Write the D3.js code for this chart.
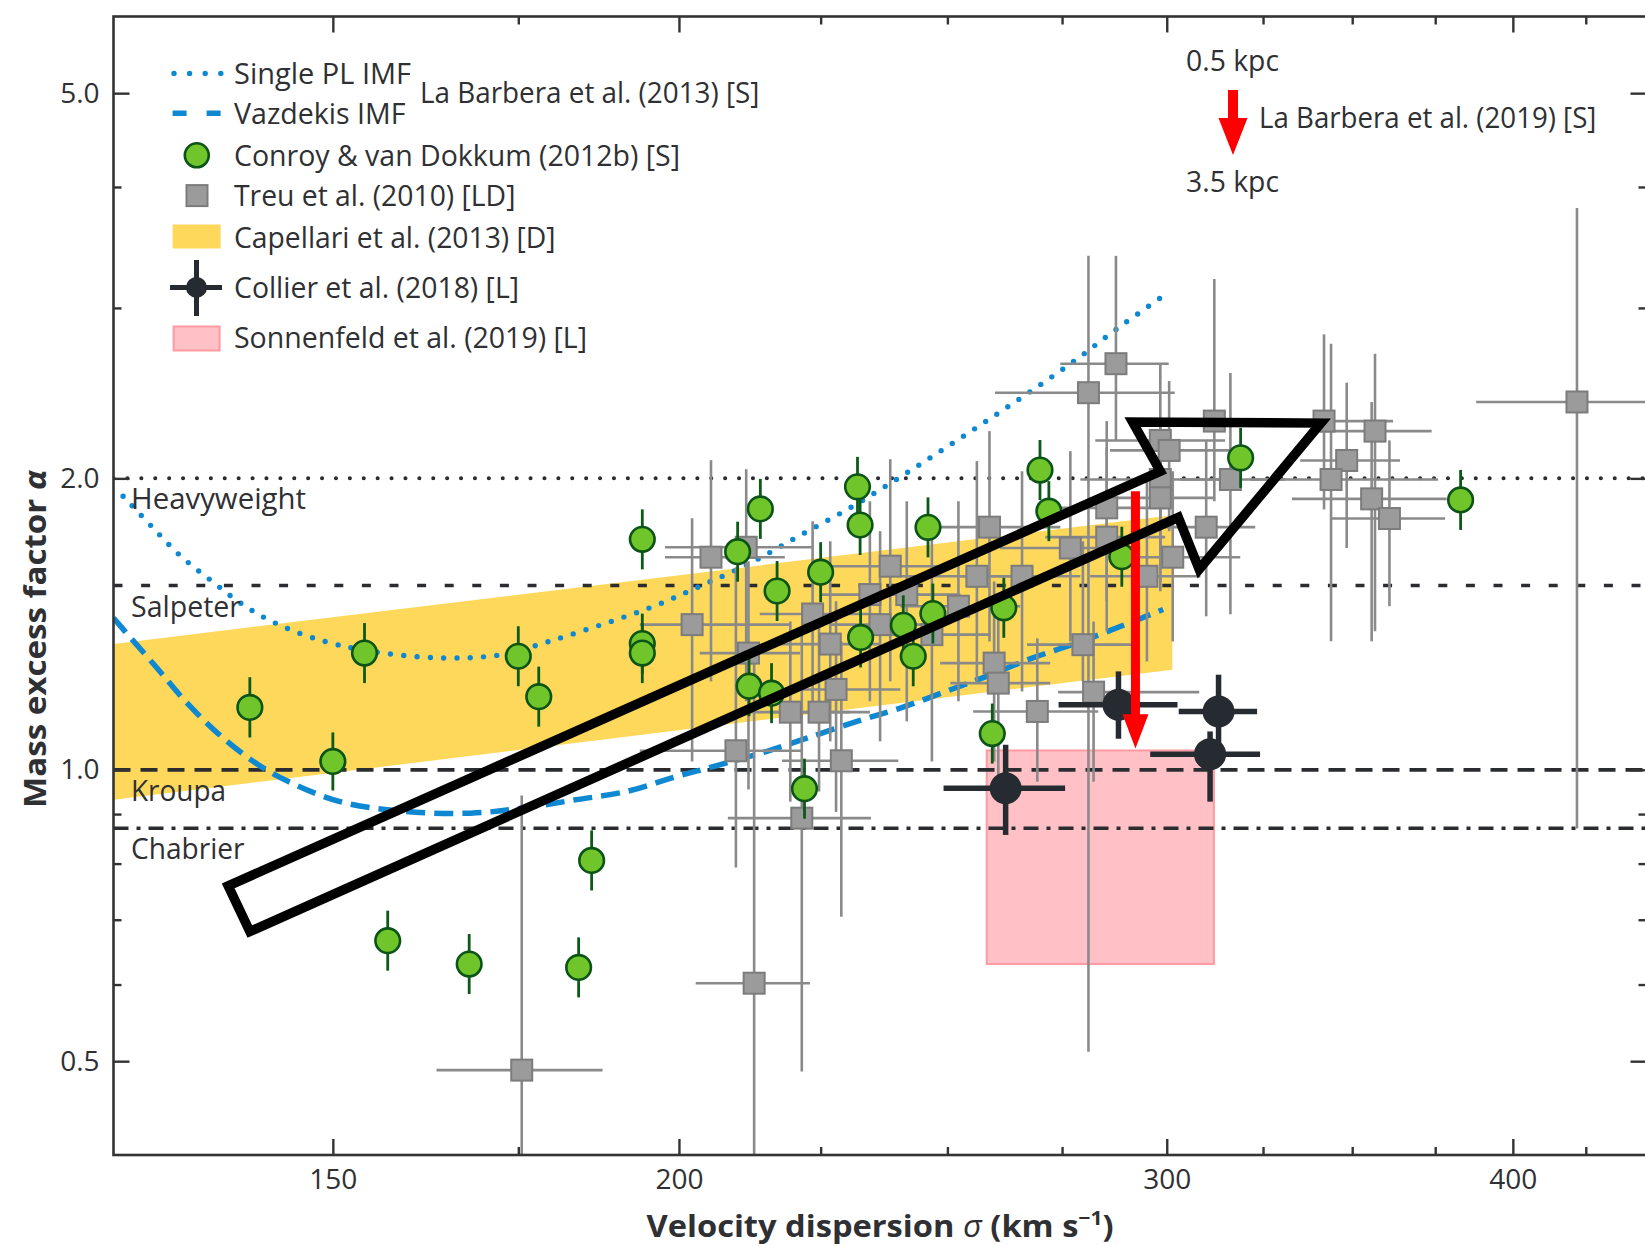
<!DOCTYPE html>
<html>
<head>
<meta charset="utf-8">
<script src="https://cdn.jsdelivr.net/npm/d3@7"></script>
<style>
  body { margin: 0; background: #fff; }
  text { font-family: "Open Sans", "Noto Sans", sans-serif; fill: #2f3033; }
</style>
</head>
<body>
<svg id="chart" width="1645" height="1246"></svg>
<script>
// ---------------- data ----------------
// IMF reference normalisations (mass excess factor alpha)
const refNames  = ["Heavyweight", "Salpeter", "Kroupa", "Chabrier"];
const refAlpha  = [2.0, 1.55, 1.0, 0.87];

// La Barbera et al. (2013): single power-law IMF and Vazdekis IMF trends
const splSigma = [126.0,129.0,132.2,135.7,138.9,142.6,147.6,154.2,163.9,172.6,179.5,187.5,195.8,203.8,212.5,220.9,230.0,239.1,248.3,258.0,267.8,278.0,288.0,299.1];
const splAlpha = [1.917,1.785,1.662,1.565,1.487,1.423,1.368,1.328,1.305,1.315,1.357,1.412,1.475,1.550,1.638,1.743,1.857,1.987,2.130,2.288,2.458,2.648,2.858,3.086];
const vazSigma = [125.0,126.2,129.6,132.7,136.5,140.7,144.5,150.9,159.0,168.2,175.7,183.5,191.6,199.1,206.4,215.2,222.4,231.9,240.4,249.9,258.3,268.4,278.4,288.6,299.1];
const vazAlpha = [1.435,1.390,1.274,1.177,1.087,1.016,0.973,0.927,0.906,0.902,0.913,0.931,0.950,0.982,1.010,1.045,1.078,1.122,1.158,1.206,1.249,1.305,1.352,1.406,1.464];

// Conroy & van Dokkum (2012b): sigma, alpha, error (dex)
const cvdSigma = [140,150,154,175,178,194,194,194,210,214,217,212,216,222,225,232,232.5,232.6,241,243,246,247,259.5,262,270,272,289,319,383,157,168,184,186];
const cvdAlpha = [1.16,1.02,1.32,1.31,1.19,1.73,1.35,1.32,1.68,1.86,1.53,1.22,1.20,0.956,1.60,1.96,1.79,1.37,1.41,1.31,1.78,1.45,1.09,1.47,2.04,1.85,1.66,2.10,1.90,0.666,0.630,0.625,0.806];
const cvdErr   = [0.031,0.030,0.031,0.031,0.031,0.031,0.031,0.031,0.031,0.031,0.031,0.031,0.031,0.031,0.031,0.031,0.031,0.031,0.031,0.031,0.031,0.031,0.031,0.031,0.031,0.031,0.031,0.031,0.031,0.031,0.031,0.031,0.031];

// Treu et al. (2010): sigma with range, alpha with range
const treuSigma   = [175.5,212.9,421.9,341.9,356.7,348.4,343.9,355.7,361.0,281.1,287.6,312.1,298.4,300.6,298.4,316.3,298.4,285.4,258.9,310.0,285.4,276.9,301.5,295.1,256.2,266.0,252.3,205.4,211.5,202.2,211.9,223.5,226.8,227.9,238.4,234.4,241.7,236.4,246.8,209.7,219.4,224.7,228.9,221.5,279.8,259.9,260.8,282.3,269.4];
const treuSigLo   = [163.5,202.8,388.0,326.9,340.8,335.2,321.6,332.9,344.1,260.1,274.6,298.4,282.7,286.2,279.2,303.4,283.9,272.3,244.4,295.9,271.2,261.2,286.2,281.5,240.4,252.7,240.4,197.7,197.7,193.6,203.5,213.9,217.5,217.5,226.8,224.9,232.5,226.8,236.4,193.6,210.4,215.7,217.9,208.3,267.1,248.5,250.6,274.1,255.4];
const treuSigHi   = [187.7,223.0,480.0,362.1,373.9,364.2,375.9,378.6,378.1,302.0,300.5,324.2,314.9,316.3,318.9,331.0,312.3,300.8,274.6,322.9,299.6,293.5,318.9,308.5,272.3,279.2,265.6,218.4,223.6,219.4,221.2,234.4,236.4,240.4,250.6,244.4,252.7,246.5,259.1,221.7,230.6,234.4,240.0,234.6,293.2,272.3,272.3,308.2,283.4];
const treuAlpha   = [0.4895,0.6019,2.3985,2.292,2.2379,2.087,1.9947,1.9048,1.8178,2.4521,2.6272,2.292,2.1888,2.1375,1.9947,1.9947,1.9094,1.8645,1.7808,1.7808,1.739,1.6948,1.6581,1.5845,1.5845,1.5845,1.4755,1.6581,1.6977,1.4124,1.3199,1.4485,1.3485,1.2106,1.623,1.517,1.517,1.4124,1.3792,1.0463,1.1469,1.1469,1.0217,0.8913,1.3466,1.2889,1.2289,1.2029,1.1488];
const treuAlphaLo = [0.30,0.30,0.8695,1.8574,1.3901,1.6948,1.3574,1.3574,1.4755,0.5113,2.1852,1.894,1.642,1.7639,1.565,1.4475,1.529,1.493,1.357,1.4406,1.3901,1.357,1.357,1.294,1.234,1.2048,1.177,1.234,1.177,1.020,0.9542,1.177,1.070,0.9042,1.234,1.177,1.122,1.070,1.020,0.7925,0.927,0.9496,0.705,0.488,1.234,1.020,0.972,0.972,0.972];
const treuAlphaHi = [0.9406,1.3412,3.8058,2.8174,2.6906,2.511,2.755,2.3985,2.1888,3.3955,3.3955,3.2137,2.6316,2.5212,2.292,2.5696,2.2379,2.292,2.238,2.185,2.1519,2.1337,2.0343,1.987,2.084,2.034,1.894,2.0885,2.0441,1.8191,1.642,1.806,1.722,1.493,2.0936,1.894,1.894,1.764,1.806,1.6191,1.423,1.4577,1.357,1.3934,1.722,1.565,1.493,1.423,1.367];

// Cappellari et al. (2013): band edges at the two ends of the sigma range
const capSigma = [125, 301.4];
const capLow   = [0.931, 1.269];
const capHigh  = [1.349, 1.832];

// Collier et al. (2018)
const colSigma   = [262.4, 288.2, 313.2, 311.0];
const colSigLo   = [249.2, 274.2, 303.0, 295.9];
const colSigHi   = [275.7, 302.7, 323.4, 324.2];
const colAlpha   = [0.957, 1.1675, 1.1488, 1.0378];
const colAlphaLo = [0.8564, 1.0766, 1.0396, 0.927];
const colAlphaHi = [1.0613, 1.2637, 1.2538, 1.0955];

// Sonnenfeld et al. (2019): allowed region
const sonSigma = [258.3, 312.0];
const sonAlpha = [0.63, 1.047];

// La Barbera et al. (2019): radial change from 0.5 kpc to 3.5 kpc
const lb19Sigma = 292.3;
const lb19Alpha = [1.94, 1.141, 1.052];   // shaft start, head base, tip

// Trend arrow outline (sigma, alpha) vertices
const trendSigma = [137.5, 298.4, 291.6, 341.0, 308.2, 302.9, 140.0];
const trendAlpha = [0.7587, 2.034, 2.287, 2.281, 1.611, 1.823, 0.6806];

// Axis ticks
const xMajor = [150, 200, 300, 400];
const xMinor = [175, 225, 250, 275, 325, 350, 375, 425];
const yMajor = [0.5, 1.0, 2.0, 5.0];
const yMinor = [0.6, 0.7, 0.8, 0.9, 3, 4];

// ---------------- layout ----------------
const svg = d3.select("#chart");
const L = 113.5, R = 1646.5, T = 16.5, B = 1155;
const x = d3.scaleLog().domain([125, 447]).range([L, R]);
const y = d3.scaleLog().domain([0.4, 6]).range([B, T]);

const BLUE = "#0f88d2", INK = "#2b2c30", GRAYLINE = "#8a8a8a";

svg.append("defs").append("clipPath").attr("id", "plotArea")
  .append("rect").attr("x", L).attr("y", T).attr("width", R - L).attr("height", B - T);

const plot = svg.append("g").attr("clip-path", "url(#plotArea)");

// Cappellari band
const band = capSigma.map((s, i) => ({ s, lo: capLow[i], hi: capHigh[i] }));
plot.append("path").datum(band)
  .attr("d", d3.area().x(d => x(d.s)).y0(d => y(d.lo)).y1(d => y(d.hi)))
  .attr("fill", "#fed85a");

// Sonnenfeld region
plot.append("rect")
  .attr("x", x(sonSigma[0])).attr("y", y(sonAlpha[1]))
  .attr("width", x(sonSigma[1]) - x(sonSigma[0]))
  .attr("height", y(sonAlpha[0]) - y(sonAlpha[1]))
  .attr("fill", "#ffc1c5").attr("stroke", "#ff9aa2").attr("stroke-width", 2);

// IMF reference lines
const refStyle = [
  { w: 4, dash: "0.1 13.8", cap: "round" },
  { w: 3.5, dash: "9 18.6", cap: "butt" },
  { w: 3.8, dash: "17 10", cap: "butt" },
  { w: 3.5, dash: "15 8 4 8", cap: "butt" }
];
const refLabelW = [175, 110, 95, 113.5];
refAlpha.forEach((a, i) => {
  plot.append("line")
    .attr("x1", x(125)).attr("x2", x(447)).attr("y1", y(a)).attr("y2", y(a))
    .attr("stroke", INK).attr("stroke-width", refStyle[i].w)
    .attr("stroke-dasharray", refStyle[i].dash).attr("stroke-linecap", refStyle[i].cap);
  svg.append("text").attr("x", 131).attr("y", y(a) + 31)
    .attr("font-size", 29).attr("textLength", refLabelW[i]).attr("lengthAdjust", "spacingAndGlyphs")
    .text(refNames[i]);
});

// La Barbera (2013) model curves
const curve = d3.line().x(d => x(d[0])).y(d => y(d[1])).curve(d3.curveCatmullRom.alpha(0.5));
plot.append("path").datum(vazSigma.map((s, i) => [s, vazAlpha[i]]))
  .attr("d", curve).attr("fill", "none").attr("stroke", BLUE)
  .attr("stroke-width", 5.5).attr("stroke-dasharray", "19 9");
plot.append("path").datum(splSigma.map((s, i) => [s, splAlpha[i]]))
  .attr("d", curve).attr("fill", "none").attr("stroke", BLUE)
  .attr("stroke-width", 5.4).attr("stroke-dasharray", "0 13.3").attr("stroke-linecap", "round");

// Treu et al. error bars, then squares
const treu = treuSigma.map((s, i) => ({
  s, a: treuAlpha[i], sl: treuSigLo[i], sh: treuSigHi[i], al: treuAlphaLo[i], ah: treuAlphaHi[i]
}));
const tBars = plot.append("g").attr("stroke", GRAYLINE).attr("stroke-width", 2.6);
treu.forEach(d => {
  tBars.append("line").attr("x1", x(d.sl)).attr("x2", x(d.sh)).attr("y1", y(d.a)).attr("y2", y(d.a));
  tBars.append("line").attr("x1", x(d.s)).attr("x2", x(d.s)).attr("y1", y(d.al)).attr("y2", y(d.ah));
});
plot.append("g").selectAll("rect").data(treu).join("rect")
  .attr("x", d => x(d.s) - 10.5).attr("y", d => y(d.a) - 10.5)
  .attr("width", 21).attr("height", 21)
  .attr("fill", "#9b9b9b").attr("stroke", "#7c7c7c").attr("stroke-width", 2);

// Conroy & van Dokkum points
const cvd = cvdSigma.map((s, i) => ({ s, a: cvdAlpha[i], e: cvdErr[i] }));
plot.append("g").selectAll("line").data(cvd).join("line")
  .attr("x1", d => x(d.s)).attr("x2", d => x(d.s))
  .attr("y1", d => y(d.a * Math.pow(10, -d.e))).attr("y2", d => y(d.a * Math.pow(10, d.e)))
  .attr("stroke", "#0c5a18").attr("stroke-width", 2.8);
plot.append("g").selectAll("circle").data(cvd).join("circle")
  .attr("cx", d => x(d.s)).attr("cy", d => y(d.a)).attr("r", 12.3)
  .attr("fill", "#70c52a").attr("stroke", "#0b5316").attr("stroke-width", 2.6);

// Collier et al. points
const col = colSigma.map((s, i) => ({
  s, a: colAlpha[i], sl: colSigLo[i], sh: colSigHi[i], al: colAlphaLo[i], ah: colAlphaHi[i]
}));
const cG = plot.append("g");
col.forEach(d => {
  cG.append("line").attr("x1", x(d.sl)).attr("x2", x(d.sh)).attr("y1", y(d.a)).attr("y2", y(d.a))
    .attr("stroke", "#262a31").attr("stroke-width", 5.5);
  cG.append("line").attr("x1", x(d.s)).attr("x2", x(d.s)).attr("y1", y(d.al)).attr("y2", y(d.ah))
    .attr("stroke", "#262a31").attr("stroke-width", 5.5);
});
cG.selectAll("circle").data(col).join("circle")
  .attr("cx", d => x(d.s)).attr("cy", d => y(d.a)).attr("r", 16).attr("fill", "#262a31");

// La Barbera (2019) radial arrow
function downArrow(g, cx, y0, yHead, yTip, shaftW, headW, color) {
  g.append("path")
    .attr("d", `M${cx - shaftW / 2},${y0} L${cx + shaftW / 2},${y0} L${cx + shaftW / 2},${yHead}
                L${cx + headW / 2},${yHead} L${cx},${yTip} L${cx - headW / 2},${yHead}
                L${cx - shaftW / 2},${yHead} Z`)
    .attr("fill", color);
}
downArrow(plot, x(lb19Sigma), y(lb19Alpha[0]), y(lb19Alpha[1]), y(lb19Alpha[2]), 9, 26, "#ff0000");

// Trend arrow outline
plot.append("path")
  .attr("d", d3.line()(trendSigma.map((s, i) => [x(s), y(trendAlpha[i])])) + "Z")
  .attr("fill", "none").attr("stroke", "#000").attr("stroke-width", 9.5)
  .attr("stroke-linejoin", "miter").attr("stroke-miterlimit", 10);

// ---------------- axes ----------------
const axG = svg.append("g");
function styleAxis(g) {
  g.select(".domain").remove();
  g.selectAll(".tick line").attr("stroke", "#333").attr("stroke-width", 2.4);
  g.selectAll(".tick text").attr("font-family", '"Open Sans", sans-serif').attr("font-size", 28).attr("fill", "#333");
}
const fmtX = d3.format("d"), fmtY = d3.format(".1f");
axG.append("g").attr("transform", `translate(0,${B})`)
  .call(d3.axisBottom(x).tickValues(xMajor).tickSizeInner(-16).tickSizeOuter(0).tickPadding(14).tickFormat(fmtX)).call(styleAxis);
axG.append("g").attr("transform", `translate(0,${B})`)
  .call(d3.axisBottom(x).tickValues(xMinor).tickSizeInner(-8).tickSizeOuter(0).tickFormat("")).call(styleAxis);
axG.append("g").attr("transform", `translate(0,${T})`)
  .call(d3.axisTop(x).tickValues(xMajor).tickSizeInner(-16).tickSizeOuter(0).tickFormat("")).call(styleAxis);
axG.append("g").attr("transform", `translate(0,${T})`)
  .call(d3.axisTop(x).tickValues(xMinor).tickSizeInner(-8).tickSizeOuter(0).tickFormat("")).call(styleAxis);
axG.append("g").attr("transform", `translate(${L},0)`)
  .call(d3.axisLeft(y).tickValues(yMajor).tickSizeInner(-16).tickSizeOuter(0).tickPadding(14).tickFormat(fmtY)).call(styleAxis);
axG.append("g").attr("transform", `translate(${L},0)`)
  .call(d3.axisLeft(y).tickValues(yMinor).tickSizeInner(-8).tickSizeOuter(0).tickFormat("")).call(styleAxis);
axG.append("g").attr("transform", `translate(${R},0)`)
  .call(d3.axisRight(y).tickValues(yMajor).tickSizeInner(-16).tickSizeOuter(0).tickFormat("")).call(styleAxis);
axG.append("g").attr("transform", `translate(${R},0)`)
  .call(d3.axisRight(y).tickValues(yMinor).tickSizeInner(-8).tickSizeOuter(0).tickFormat("")).call(styleAxis);
axG.append("rect").attr("x", L).attr("y", T).attr("width", R - L).attr("height", B - T)
  .attr("fill", "none").attr("stroke", "#333").attr("stroke-width", 2.6);

// axis titles
const xt = svg.append("text").attr("x", (L + R) / 2).attr("y", 1237)
  .attr("text-anchor", "middle").attr("font-size", 31).attr("font-weight", 700)
  .attr("textLength", 467).attr("lengthAdjust", "spacingAndGlyphs");
xt.append("tspan").text("Velocity dispersion ");
xt.append("tspan").attr("font-style", "italic").attr("font-weight", 400).text("σ");
xt.append("tspan").text(" (km s");
xt.append("tspan").attr("dy", -12).attr("font-size", 20).text("−1");
xt.append("tspan").attr("dy", 12).text(")");

const yt = svg.append("text").attr("transform", "translate(46,639) rotate(-90)")
  .attr("text-anchor", "middle").attr("font-size", 31).attr("font-weight", 700)
  .attr("textLength", 338).attr("lengthAdjust", "spacingAndGlyphs");
yt.append("tspan").text("Mass excess factor ");
yt.append("tspan").attr("font-style", "italic").text("α");

// ---------------- legend ----------------
const leg = svg.append("g");
const rowY = [73.4, 113.3, 155.3, 195.1, 237.1, 287.4, 337.8];
const legLabels = ["Single PL IMF", "Vazdekis IMF", "Conroy & van Dokkum (2012b) [S]", "Treu et al. (2010) [LD]",
                   "Capellari et al. (2013) [D]", "Collier et al. (2018) [L]", "Sonnenfeld et al. (2019) [L]"];
const legW = [177, 171.5, 446, 281.4, 321.6, 285, 353];
legLabels.forEach((t, i) => {
  leg.append("text").attr("x", 234).attr("y", rowY[i]).attr("dy", "0.36em")
    .attr("font-size", 29).attr("textLength", legW[i]).attr("lengthAdjust", "spacingAndGlyphs").text(t);
});
leg.append("text").attr("x", 420).attr("y", 92.3).attr("dy", "0.36em").attr("font-size", 29)
  .attr("textLength", 339.4).attr("lengthAdjust", "spacingAndGlyphs").text("La Barbera et al. (2013) [S]");
leg.append("line").attr("x1", 174).attr("x2", 221).attr("y1", rowY[0]).attr("y2", rowY[0])
  .attr("stroke", BLUE).attr("stroke-width", 5.4).attr("stroke-dasharray", "0 15.6").attr("stroke-linecap", "round");
leg.append("line").attr("x1", 172.6).attr("x2", 221).attr("y1", rowY[1]).attr("y2", rowY[1])
  .attr("stroke", BLUE).attr("stroke-width", 5.5).attr("stroke-dasharray", "14 20");
leg.append("circle").attr("cx", 196.8).attr("cy", rowY[2]).attr("r", 12)
  .attr("fill", "#70c52a").attr("stroke", "#0b5316").attr("stroke-width", 2.6);
leg.append("rect").attr("x", 186.5).attr("y", rowY[3] - 10).attr("width", 21).attr("height", 21)
  .attr("fill", "#9b9b9b").attr("stroke", "#7c7c7c").attr("stroke-width", 2);
leg.append("rect").attr("x", 172.6).attr("y", 224.5).attr("width", 48).attr("height", 24).attr("fill", "#fed85a");
leg.append("line").attr("x1", 170).attr("x2", 222).attr("y1", rowY[5]).attr("y2", rowY[5])
  .attr("stroke", "#262a31").attr("stroke-width", 5);
leg.append("line").attr("x1", 196.5).attr("x2", 196.5).attr("y1", 260).attr("y2", 316)
  .attr("stroke", "#262a31").attr("stroke-width", 5);
leg.append("circle").attr("cx", 196.5).attr("cy", rowY[5]).attr("r", 10.5).attr("fill", "#262a31");
leg.append("rect").attr("x", 173.6).attr("y", 326.5).attr("width", 46).attr("height", 24)
  .attr("fill", "#ffc1c5").attr("stroke", "#ff9aa2").attr("stroke-width", 2);

// radial-gradient annotation (top right)
const ann = svg.append("g");
ann.append("text").attr("x", 1232.5).attr("y", 61).attr("dy", "0.36em").attr("text-anchor", "middle")
  .attr("font-size", 29).attr("textLength", 93).attr("lengthAdjust", "spacingAndGlyphs").text("0.5 kpc");
ann.append("text").attr("x", 1232.5).attr("y", 182).attr("dy", "0.36em").attr("text-anchor", "middle")
  .attr("font-size", 29).attr("textLength", 93).attr("lengthAdjust", "spacingAndGlyphs").text("3.5 kpc");
ann.append("text").attr("x", 1259).attr("y", 118).attr("dy", "0.36em")
  .attr("font-size", 29).attr("textLength", 337.4).attr("lengthAdjust", "spacingAndGlyphs").text("La Barbera et al. (2019) [S]");
downArrow(ann, 1233, 90, 118, 155, 10, 29, "#ff0000");
</script>
</body>
</html>
